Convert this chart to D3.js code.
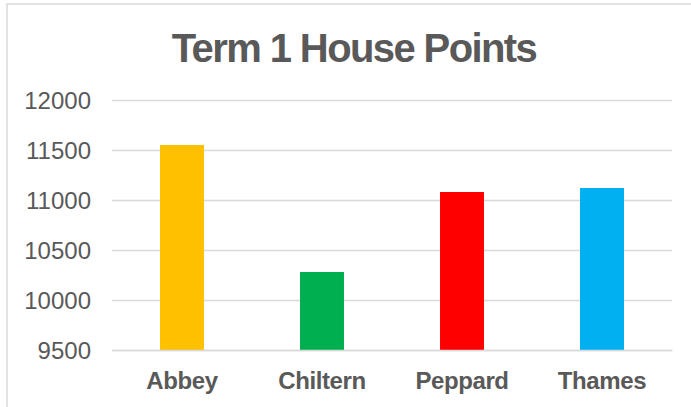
<!DOCTYPE html>
<html>
<head>
<meta charset="utf-8">
<script src="https://cdn.jsdelivr.net/npm/d3@7"></script>
<style>
  html, body { margin: 0; padding: 0; background: #fff; overflow: hidden; }
  svg { display: block; font-family: "Liberation Sans", Arial, sans-serif; }
</style>
</head>
<body>
<svg id="chart" width="691" height="407"></svg>
<script>
const houses = ["Abbey", "Chiltern", "Peppard", "Thames"];
const points = [11550, 10280, 11080, 11120];
const houseColours = ["#FFC000", "#00B050", "#FF0000", "#00B0F0"];
const yTicks = [9500, 10000, 10500, 11000, 11500, 12000];
const chartTitle = "Term 1 House Points";

const svg = d3.select("#chart");
const W = 691, H = 407;
const plotLeft = 112, plotRight = 672, plotTop = 100, plotBottom = 350;

// chart area border (runs off the right and bottom edge)
svg.append("rect")
  .attr("x", 7).attr("y", 4)
  .attr("width", W + 20).attr("height", H + 20)
  .attr("fill", "#fff")
  .attr("stroke", "#d9d9d9")
  .attr("stroke-width", 1.5);

// scales
const x = d3.scaleBand()
  .domain(houses)
  .range([plotLeft, plotRight])
  .paddingInner(0.686)
  .paddingOuter(0.343);

const y = d3.scaleLinear()
  .domain([d3.min(yTicks), d3.max(yTicks)])
  .range([plotBottom, plotTop]);

// gridlines + y labels
const yAxis = d3.axisLeft(y)
  .tickValues(yTicks)
  .tickSize(-(plotRight - plotLeft))
  .tickPadding(21)
  .tickFormat(d3.format("d"));

const gy = svg.append("g")
  .attr("transform", `translate(${plotLeft},0)`)
  .call(yAxis);
gy.select(".domain").remove();
gy.selectAll(".tick line")
  .attr("stroke", "#d9d9d9")
  .attr("stroke-width", 1.5);
gy.selectAll(".tick text")
  .attr("fill", "#595959")
  .attr("font-size", 24)
  .attr("dy", "0.36em");

// bars
svg.append("g")
  .selectAll("rect")
  .data(points)
  .join("rect")
  .attr("x", (d, i) => x(houses[i]))
  .attr("width", x.bandwidth())
  .attr("y", d => y(d))
  .attr("height", d => y(d3.min(yTicks)) - y(d))
  .attr("fill", (d, i) => houseColours[i]);

// category axis
const xAxis = d3.axisBottom(x).tickSize(0).tickPadding(22);
const gx = svg.append("g")
  .attr("transform", `translate(0,${plotBottom})`)
  .call(xAxis);
gx.select(".domain")
  .attr("stroke", "#d9d9d9")
  .attr("stroke-width", 1.5);
gx.selectAll(".tick text")
  .attr("fill", "#595959")
  .attr("font-size", 24)
  .attr("font-weight", "bold")
  .attr("letter-spacing", "-0.4px");

// title
svg.append("text")
  .attr("x", 354)
  .attr("y", 62)
  .attr("text-anchor", "middle")
  .attr("fill", "#595959")
  .attr("font-size", 40)
  .attr("font-weight", "bold")
  .attr("letter-spacing", "-1.6px")
  .text(chartTitle);
</script>
</body>
</html>
